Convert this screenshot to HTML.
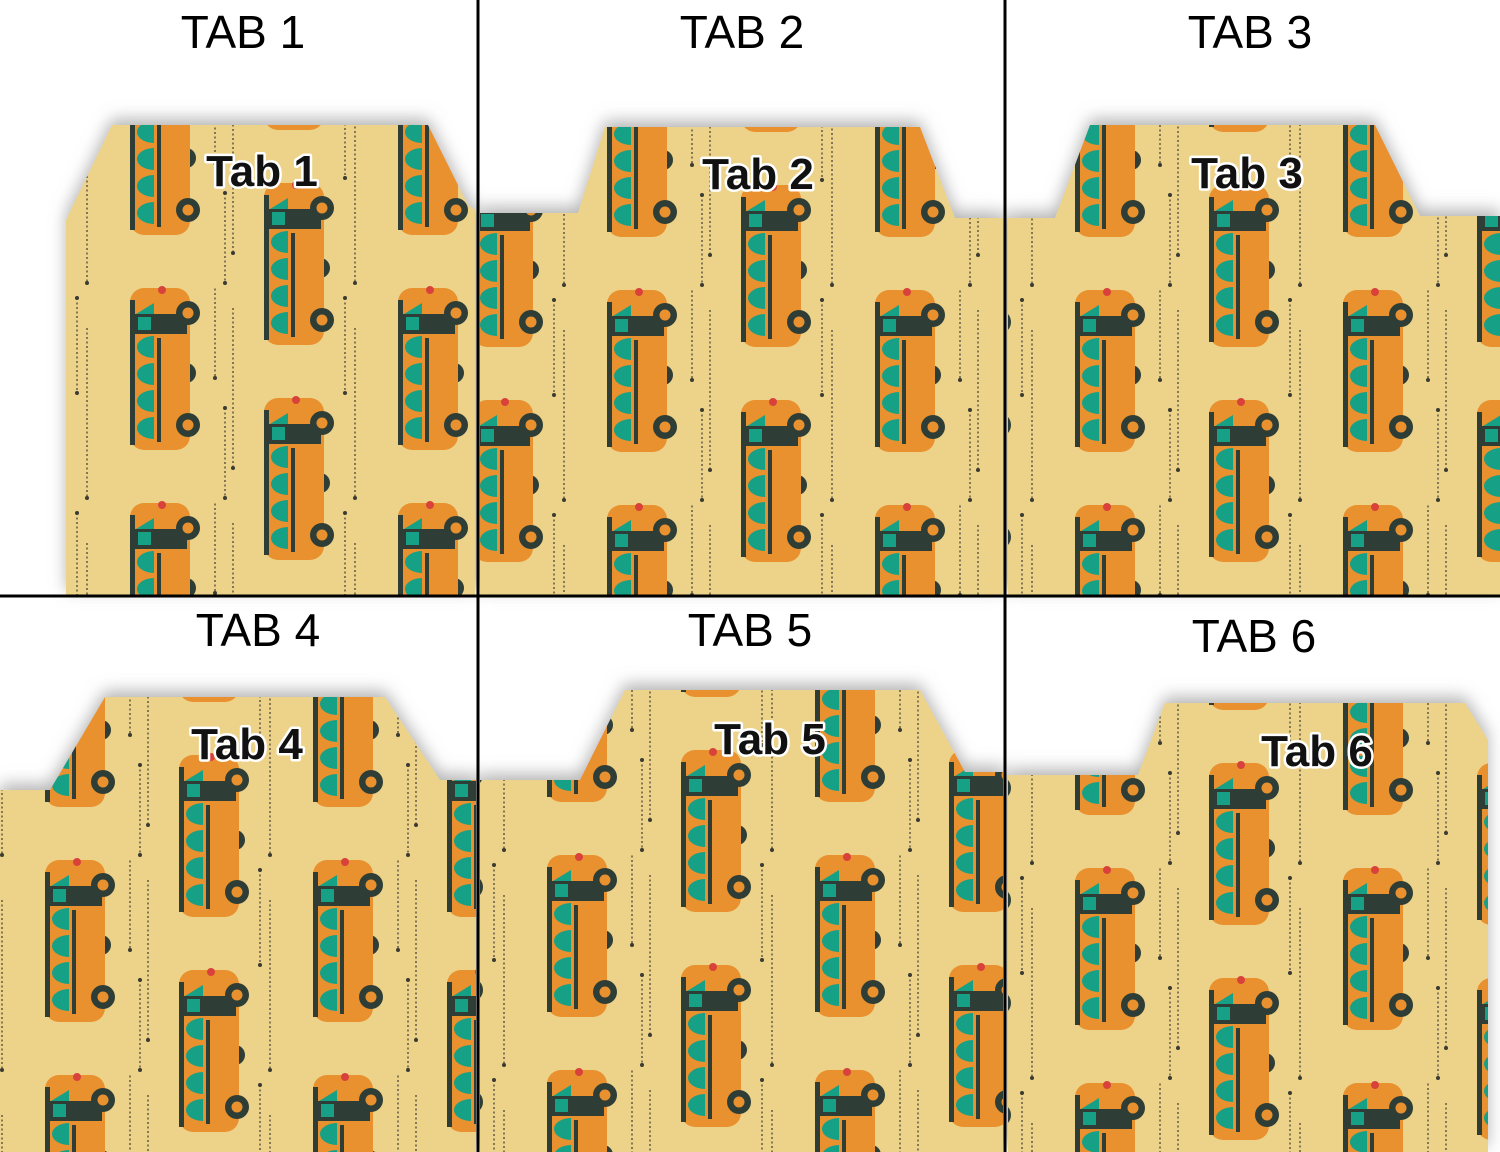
<!DOCTYPE html>
<html><head><style>html,body{margin:0;padding:0;background:#fff}svg{display:block}</style></head>
<body>
<svg width="1500" height="1152" viewBox="0 0 1500 1152" xmlns="http://www.w3.org/2000/svg">
<defs>
<g id="bus">
  <circle cx="56" cy="85" r="10" fill="#2F3E36"/>
  <rect x="0" y="0" width="60" height="162" rx="14" fill="#E8912F"/>
  <rect x="0" y="12" width="5" height="145" fill="#2F3E36"/>
  <circle cx="32" cy="2" r="4" fill="#D8433A"/>
  <polygon points="6,26 24,15 24,26" fill="#17A085"/>
  <rect x="5" y="26" width="52" height="20" fill="#2F3E36"/>
  <rect x="8" y="29" width="13" height="13" fill="#17A085"/>
  <path d="M24 48 A17 11 0 0 0 24 70 Z" fill="#17A085"/>
  <path d="M24 75 A17 11 0 0 0 24 97 Z" fill="#17A085"/>
  <path d="M24 102 A17 11 0 0 0 24 124 Z" fill="#17A085"/>
  <path d="M24 129 A17 11 0 0 0 24 151 Z" fill="#17A085"/>
  <rect x="27" y="50" width="4" height="104" fill="#2F3E36"/>
  <circle cx="58" cy="25" r="12" fill="#2F3E36"/><circle cx="58" cy="25" r="5.5" fill="#E8912F"/>
  <circle cx="58" cy="137" r="12" fill="#2F3E36"/><circle cx="58" cy="137" r="5.5" fill="#E8912F"/>
</g>
<g id="tile">
  <rect x="-200" y="-200" width="700" height="700" fill="#EDD38A"/>
  <g stroke="#3a3a30" stroke-width="1.2" stroke-dasharray="2 2.5">
    <line x1="-30" y1="10" x2="-30" y2="130"/><line x1="85" y1="-40" x2="85" y2="90"/>
    <line x1="95" y1="120" x2="95" y2="210"/><line x1="103" y1="20" x2="103" y2="180"/>
    <line x1="215" y1="10" x2="215" y2="105"/><line x1="225" y1="40" x2="225" y2="210"/>
  </g>
  <g fill="#3a3a30">
    <circle cx="-30" cy="10" r="2"/><circle cx="-30" cy="130" r="2"/>
    <circle cx="85" cy="90" r="2"/><circle cx="95" cy="120" r="2"/><circle cx="95" cy="210" r="2"/>
    <circle cx="103" cy="180" r="2"/><circle cx="215" cy="10" r="2"/><circle cx="215" cy="105" r="2"/>
    <circle cx="225" cy="210" r="2"/>
  </g>
  <use href="#bus" x="0" y="0"/><use href="#bus" x="268" y="0"/><use href="#bus" x="0" y="215"/><use href="#bus" x="-268" y="0"/>
  <use href="#bus" x="134" y="-105"/><use href="#bus" x="134" y="110"/>
  <use href="#bus" x="-134" y="-105"/><use href="#bus" x="-134" y="110"/>
</g>
<pattern id="p1" patternUnits="userSpaceOnUse" width="268" height="215" x="130" y="73"><use href="#tile"/></pattern>
<pattern id="p2" patternUnits="userSpaceOnUse" width="268" height="215" x="607" y="75"><use href="#tile"/></pattern>
<pattern id="p3" patternUnits="userSpaceOnUse" width="268" height="215" x="1075" y="75"><use href="#tile"/></pattern>
<pattern id="p4" patternUnits="userSpaceOnUse" width="268" height="215" x="45" y="645"><use href="#tile"/></pattern>
<pattern id="p5" patternUnits="userSpaceOnUse" width="268" height="215" x="547" y="640"><use href="#tile"/></pattern>
<pattern id="p6" patternUnits="userSpaceOnUse" width="268" height="215" x="1075" y="653"><use href="#tile"/></pattern>
<filter id="sh" x="-10%" y="-20%" width="120%" height="140%">
  <feDropShadow dx="0" dy="-6" stdDeviation="8" flood-color="#777" flood-opacity="0.55"/>
</filter>
</defs>
<rect width="1500" height="1152" fill="#fff"/>
<g filter="url(#sh)">
<polygon fill="url(#p1)" points="66,220 112,125 428,125 468,205 475,210 475,596 66,596"/>
<polygon fill="url(#p2)" points="480,213 578,213 605,127 920,127 955,218 1003,218 1003,596 480,596"/>
<polygon fill="url(#p3)" points="1008,218 1055,218 1090,125 1375,125 1420,216 1500,216 1500,596 1008,596"/>
<polygon fill="url(#p4)" points="0,790 50,790 105,697 385,697 440,780 476,780 476,1152 0,1152"/>
<polygon fill="url(#p5)" points="480,780 580,780 625,690 920,690 965,772 1003,772 1003,1152 480,1152"/>
<polygon fill="url(#p6)" points="1008,775 1138,775 1165,703 1465,703 1488,740 1488,1152 1008,1152"/>
</g>
<g fill="#000" stroke="#000" stroke-width="3">
<line x1="478" y1="0" x2="478" y2="1152"/><line x1="1005" y1="0" x2="1005" y2="1152"/><line x1="0" y1="596" x2="1500" y2="596"/>
</g>
<g font-family="Liberation Sans, sans-serif" font-size="46" text-anchor="middle" fill="#000">
<text x="243" y="48">TAB 1</text><text x="742" y="48">TAB 2</text><text x="1250" y="48">TAB 3</text>
<text x="258" y="646">TAB 4</text><text x="750" y="646">TAB 5</text><text x="1254" y="652">TAB 6</text>
</g>
<g font-family="Liberation Sans, sans-serif" font-weight="bold" font-size="44" text-anchor="middle" fill="#111" stroke="#fff" stroke-width="5" paint-order="stroke" stroke-linejoin="round">
<text x="262" y="186">Tab 1</text><text x="758" y="189">Tab 2</text><text x="1247" y="188">Tab 3</text>
<text x="247" y="759">Tab 4</text><text x="770" y="754">Tab 5</text><text x="1317" y="766">Tab 6</text>
</g>
</svg>
</body></html>
